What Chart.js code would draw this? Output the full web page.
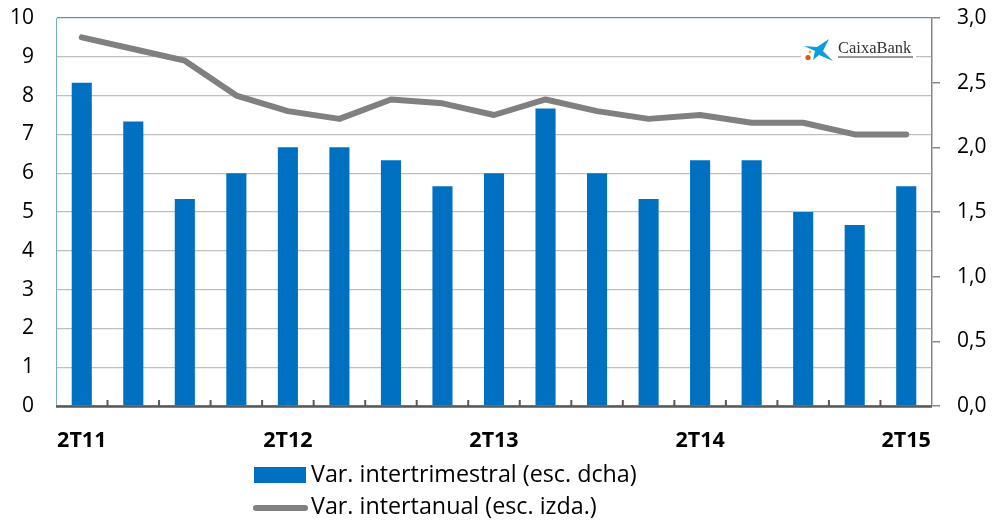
<!DOCTYPE html>
<html>
<head>
<meta charset="utf-8">
<script src="https://cdn.jsdelivr.net/npm/chart.js@4/dist/chart.umd.min.js"></script>
<style>
  body { margin: 0; background: #fff; }
  canvas { display: block; }
</style>
</head>
<body>
<canvas id="chart" width="992" height="522"></canvas>
<script>
// quarters, 2T11 .. 2T15
const quarters = ['2T11', '3T11', '4T11', '1T12', '2T12', '3T12', '4T12', '1T13', '2T13',
                  '3T13', '4T13', '1T14', '2T14', '3T14', '4T14', '1T15', '2T15'];
// bars, right scale
const varIntertrimestral = [2.5, 2.2, 1.6, 1.8, 2.0, 2.0, 1.9, 1.7, 1.8, 2.3, 1.8, 1.6, 1.9, 1.9, 1.5, 1.4, 1.7];
// line, left scale
const varIntertanual = [9.5, 9.2, 8.9, 8.0, 7.6, 7.4, 7.9, 7.8, 7.5, 7.9, 7.6, 7.4, 7.5, 7.3, 7.3, 7.0, 7.0];

const seriesNames = ['Var. intertrimestral (esc. dcha)', 'Var. intertanual (esc. izda.)'];

const blue = '#0070c0';
const grey = '#808080';

Chart.defaults.font.family = "'Open Sans', sans-serif";
Chart.defaults.color = '#000';

// bottom axis with inner ticks, logo and the two-row legend
const extras = {
    id: 'extras',
    afterDatasetsDraw(chart) {
        const ctx = chart.ctx;
        const area = chart.chartArea;
        const x = chart.scales.x;

        ctx.save();
        ctx.strokeStyle = '#595959';
        ctx.lineWidth = 2.7;
        ctx.beginPath();
        ctx.moveTo(area.left, area.bottom + 0.5);
        ctx.lineTo(area.right, area.bottom + 0.5);
        ctx.stroke();
        ctx.lineWidth = 2;
        for (let i = 1; i < quarters.length; i++) {
            const px = (x.getPixelForTick(i - 1) + x.getPixelForTick(i)) / 2;
            ctx.beginPath();
            ctx.moveTo(px, area.bottom);
            ctx.lineTo(px, area.bottom - 6);
            ctx.stroke();
        }
        ctx.restore();
    },
    afterDraw(chart) {
        const ctx = chart.ctx;
        ctx.save();

        // logo
        ctx.fillStyle = '#fff';
        ctx.fillRect(801, 52, 115, 8);
        ctx.fillStyle = '#0a9ee0';
        ctx.beginPath();
        ctx.moveTo(804, 46);
        ctx.lineTo(817, 47);
        ctx.lineTo(829, 39);
        ctx.lineTo(823, 51);
        ctx.lineTo(833, 61);
        ctx.lineTo(819, 55);
        ctx.lineTo(813, 60);
        ctx.lineTo(815, 51);
        ctx.closePath();
        ctx.fill();
        ctx.fillStyle = '#e8501e';
        ctx.beginPath();
        ctx.arc(808, 57.5, 2.6, 0, Math.PI * 2);
        ctx.fill();
        ctx.fillStyle = '#f7b500';
        ctx.beginPath();
        ctx.arc(810, 52, 1.4, 0, Math.PI * 2);
        ctx.fill();
        ctx.fillStyle = '#333';
        ctx.font = "16.5px 'Liberation Serif', serif";
        ctx.textBaseline = 'alphabetic';
        ctx.textAlign = 'left';
        ctx.fillText('CaixaBank', 838, 53);
        ctx.fillRect(838, 56.5, 75, 1);

        // legend
        const names = chart.data.datasets.map(d => d.label);
        ctx.fillStyle = blue;
        ctx.fillRect(254, 467, 52, 16);
        ctx.strokeStyle = grey;
        ctx.lineWidth = 6;
        ctx.lineCap = 'round';
        ctx.beginPath();
        ctx.moveTo(256, 508);
        ctx.lineTo(305, 508);
        ctx.stroke();
        ctx.fillStyle = '#000';
        ctx.font = "23.3px 'Open Sans', sans-serif";
        ctx.textBaseline = 'middle';
        ctx.fillText(names[0], 311, 475);
        ctx.fillText(names[1], 311, 507);
        ctx.restore();
    }
};

// keep plot area fixed: y axes take no extra vertical padding
function fixY(width) {
    return s => {
        s.width = width;
        s.paddingTop = 0;
        s.paddingBottom = 0;
    };
}

new Chart(document.getElementById('chart'), {
    type: 'bar',
    data: {
        labels: quarters,
        datasets: [{
            label: seriesNames[0],
            data: varIntertrimestral,
            yAxisID: 'y2',
            backgroundColor: blue,
            borderWidth: 0,
            categoryPercentage: 1,
            barPercentage: 0.39,
            order: 2
        }, {
            type: 'line',
            label: seriesNames[1],
            data: varIntertanual,
            yAxisID: 'y',
            borderColor: grey,
            borderWidth: 6,
            borderCapStyle: 'round',
            borderJoinStyle: 'round',
            pointRadius: 0,
            tension: 0,
            order: 1
        }]
    },
    options: {
        responsive: false,
        animation: false,
        layout: { padding: { top: 18, left: 0, right: 0, bottom: 0 } },
        plugins: {
            legend: { display: false },
            tooltip: { enabled: false }
        },
        scales: {
            x: {
                grid: { display: false },
                border: { display: false },
                ticks: {
                    autoSkip: false,
                    maxRotation: 0,
                    padding: 14,
                    font: { size: 21.5, weight: 'bold' },
                    callback: (v, i) => i % 4 === 0 ? quarters[i] : ''
                },
                afterFit: s => { s.height = 116; }
            },
            y: {
                position: 'left',
                min: 0,
                max: 10,
                ticks: { stepSize: 1, padding: 22, font: { size: 21 } },
                grid: {
                    drawTicks: false,
                    lineWidth: 1.3,
                    color: c => c.tick && c.tick.value === 10 ? '#5b8fd0' : '#bfbfbf'
                },
                border: { color: '#7aa6dc', width: 1 },
                afterFit: fixY(56)
            },
            y2: {
                position: 'right',
                min: 0,
                max: 3,
                ticks: {
                    stepSize: 0.5,
                    padding: 17,
                    font: { size: 21 },
                    callback: v => v.toFixed(1).replace('.', ',')
                },
                grid: { drawOnChartArea: false, drawTicks: true, tickLength: 8, color: '#868686', lineWidth: 1.5 },
                border: { color: '#868686', width: 1.5 },
                afterFit: fixY(60)
            }
        }
    },
    plugins: [extras]
});
</script>
</body>
</html>
